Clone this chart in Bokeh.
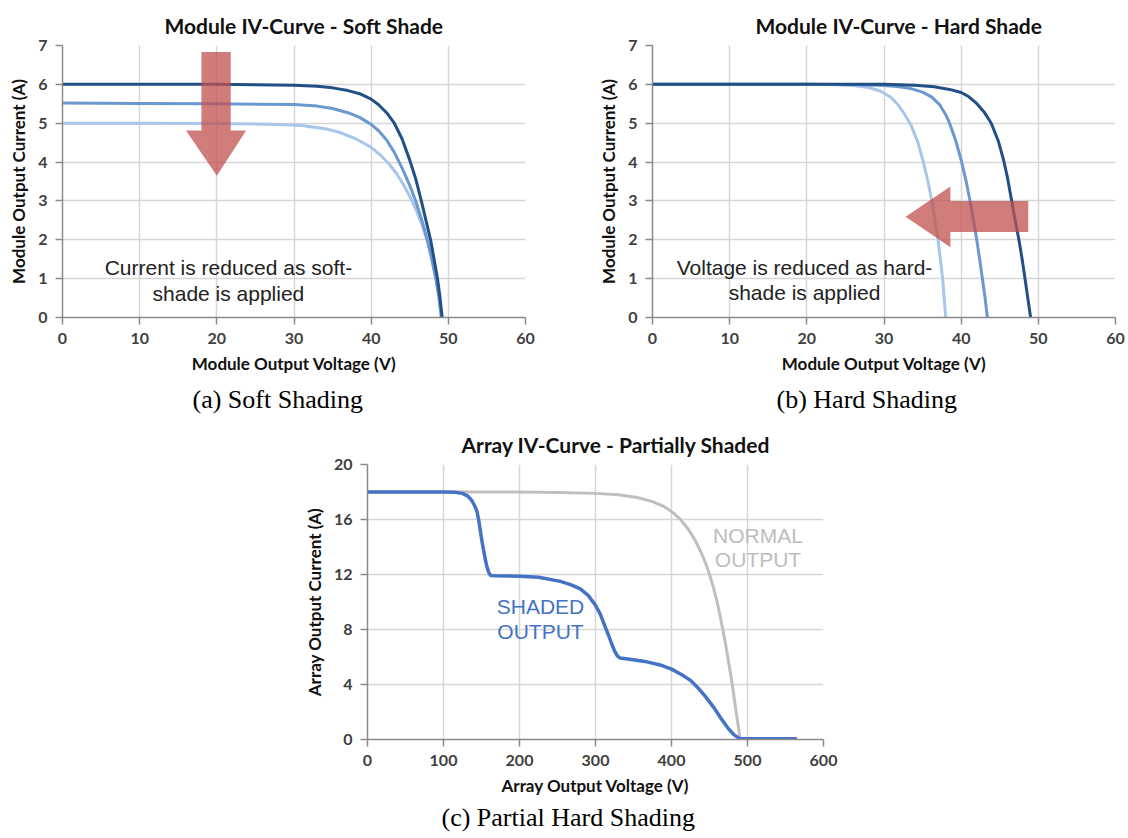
from bokeh.plotting import figure
from bokeh.models import Label, Range1d, FixedTicker, Spacer, Title
from bokeh.layouts import column, row
from bokeh.embed import file_html
from bokeh.resources import INLINE

# ---------------- (a) Soft shading: module IV curves ----------------
soft_v_full = [0, 10, 20, 25, 30, 33, 35, 37, 38.5, 40, 41, 42, 43, 44, 45, 45.8, 46.5, 47.1, 47.7, 48.2, 48.6, 48.9, 49.2]
soft_i_full = [6.0, 6.0, 6.0, 5.99, 5.98, 5.95, 5.91, 5.84, 5.76, 5.62, 5.47, 5.27, 5.0, 4.6, 4.05, 3.55, 3.0, 2.5,
               2.0, 1.45, 1.0, 0.55, 0.0]
soft_v_mid = [0, 10, 20, 30, 33, 35, 37, 38.5, 40, 41, 42, 43, 44, 45, 45.8, 46.6, 47.3, 47.9, 48.4, 48.8, 49.1]
soft_i_mid = [5.52, 5.51, 5.5, 5.48, 5.44, 5.38, 5.27, 5.15, 4.97, 4.8, 4.57, 4.25, 3.85, 3.4, 2.98, 2.48, 1.98,
              1.47, 0.98, 0.5, 0.0]
soft_v_low = [0, 10, 20, 28, 31, 34, 36, 38, 40, 41.2, 42.4, 43.3, 44.1, 45, 45.8, 46.6, 47.3, 47.9, 48.4, 48.8, 49.1]
soft_i_low = [5.0, 5.0, 4.99, 4.97, 4.94, 4.86, 4.76, 4.6, 4.38, 4.18, 3.93, 3.7, 3.45, 3.12, 2.78, 2.38, 1.95,
              1.47, 1.0, 0.52, 0.0]

# ---------------- (b) Hard shading: module IV curves ----------------
hard_v_full = [0, 20, 30, 34, 36.5, 38.5, 40, 41, 42, 43, 43.9, 44.8, 45.5, 46.0, 46.5, 47.0, 47.5, 47.9, 48.2, 48.6, 49.0]
hard_i_full = [6, 6, 6, 5.98, 5.94, 5.87, 5.79, 5.68, 5.51, 5.28, 5.0, 4.55, 4.05, 3.6, 3.05, 2.5, 1.98, 1.5, 1.1,
               0.55, 0]
hard_v_mid = [0, 20, 27, 30, 32, 33.5, 35, 36.2, 37.2, 38, 38.5, 39.3, 40.0, 40.6, 41.1, 41.6, 42.0, 42.4, 42.75,
              43.1, 43.4]
hard_i_mid = [6, 6, 5.99, 5.97, 5.94, 5.89, 5.8, 5.67, 5.48, 5.22, 5.0, 4.55, 4.05, 3.55, 3.05, 2.5, 2.02, 1.5, 1.0,
              0.5, 0]
hard_v_low = [0, 20, 24, 26, 28, 29.5, 30.8, 31.8, 32.7, 33.5, 34.4, 35.1, 35.7, 36.2, 36.6, 37.0, 37.3, 37.6, 37.8, 38.0]
hard_i_low = [6, 6, 5.99, 5.97, 5.92, 5.83, 5.68, 5.48, 5.22, 4.95, 4.5, 4.0, 3.5, 3.0, 2.5, 2.0, 1.5, 1.0, 0.5, 0]

# ---------------- (c) Array IV curves ----------------
normal_v = [0, 100, 200, 250, 300, 330, 355, 375, 390, 402, 412, 422, 431, 439, 445, 450, 455, 460, 464, 467.5,
            471, 474, 477, 480, 482.5, 485, 487.8, 490.4]
normal_i = [18, 18, 18, 17.97, 17.9, 17.8, 17.6, 17.3, 16.95, 16.5, 16.0, 15.3, 14.5, 13.6, 12.8, 12.0, 11.1, 10.0,
            9.0, 8.0, 7.0, 6.0, 5.0, 4.0, 3.0, 2.0, 1.0, 0]
shaded_v = [0, 100, 115, 125, 132, 137, 141, 144, 146.5, 149, 151, 153, 155, 157, 159.5, 162, 170, 200, 225, 254,
            268, 280, 290, 299, 306, 312, 317, 321, 325, 328.5, 332, 345, 365, 385, 400, 413, 425, 435, 445, 456,
            465, 474, 482, 489, 492, 565]
shaded_i = [18, 18, 17.98, 17.9, 17.7, 17.4, 17.0, 16.6, 15.9, 15.0, 14.3, 13.7, 13.1, 12.6, 12.15, 11.92, 11.9,
            11.88, 11.8, 11.5, 11.25, 10.95, 10.5, 9.85, 9.15, 8.3, 7.6, 7.0, 6.45, 6.1, 5.93, 5.84, 5.68, 5.42,
            5.12, 4.73, 4.3, 3.75, 3.1, 2.3, 1.55, 0.85, 0.35, 0.08, 0.05, 0.05]

module_v_ticks = [0, 10, 20, 30, 40, 50, 60]
module_i_ticks = [0, 1, 2, 3, 4, 5, 6, 7]
array_v_ticks = [0, 100, 200, 300, 400, 500, 600]
array_i_ticks = [0, 4, 8, 12, 16, 20]

# block-arrow outlines
soft_arrow_v = [18.0, 21.8, 21.8, 23.8, 20.0, 16.0, 18.0]
soft_arrow_i = [6.83, 6.83, 4.81, 4.81, 3.65, 4.81, 4.81]
hard_arrow_v = [48.7, 48.7, 38.6, 38.6, 32.8, 38.6, 38.6]
hard_arrow_i = [3.0, 2.2, 2.2, 1.81, 2.59, 3.37, 3.0]

DARK = "#214f86"
MID = "#6a98cf"
LIGHT = "#a8c6ea"
ARROW = "#c0504d"
FONT = "Lato"


def make_fig(title, title_offset, xlab, ylab, xr, yr, xt, yt, fw, fh, bl, br, bt, bb):
    p = figure(frame_width=fw, frame_height=fh, x_range=Range1d(*xr), y_range=Range1d(*yr),
               output_backend="svg", toolbar_location=None,
               min_border_left=bl, min_border_right=br, min_border_top=bt, min_border_bottom=bb)
    p.title.text = title
    p.title.align = "left"
    p.title.offset = title_offset
    p.title.text_font = FONT
    p.title.text_font_style = "bold"
    p.title.text_font_size = "21px"
    p.title.text_color = "#111111"
    p.title.standoff = 16
    p.xaxis.ticker = FixedTicker(ticks=xt)
    p.yaxis.ticker = FixedTicker(ticks=yt)
    p.xaxis.axis_label = xlab
    p.yaxis.axis_label = ylab
    for ax in (p.xaxis[0], p.yaxis[0]):
        ax.axis_label_text_font = FONT
        ax.axis_label_text_font_style = "bold"
        ax.axis_label_text_font_size = "17px"
        ax.axis_label_text_color = "#111111"
        ax.major_label_text_font = FONT
        ax.major_label_text_font_style = "bold"
        ax.major_label_text_font_size = "16px"
        ax.major_label_text_color = "#404040"
        ax.axis_line_color = "#8a8a8a"
        ax.axis_line_width = 1.5
        ax.major_tick_line_color = "#8a8a8a"
        ax.major_tick_line_width = 1.5
        ax.major_tick_out = 7
        ax.major_tick_in = 0
        ax.minor_tick_line_color = None
        ax.major_label_standoff = 8
        ax.axis_label_standoff = 6
    p.grid.grid_line_color = "#d6d6d6"
    p.grid.grid_line_width = 1.5
    p.outline_line_color = None
    p.background_fill_color = "white"
    p.border_fill_color = "white"
    return p


def add_text(p, x, y, text, size, color):
    p.add_layout(Label(x=x, y=y, text=text, text_align="center", text_baseline="middle",
                       text_font="Liberation Sans", text_font_size=size, text_color=color))


def add_caption(p, text, offset, standoff):
    p.add_layout(Title(text=text, align="left", offset=offset, standoff=standoff,
                       text_font="Liberation Serif", text_font_size="26px",
                       text_font_style="normal", text_color="#000000"), "below")


# ---- (a)
p1 = make_fig("Module IV-Curve - Soft Shade", 102, "Module Output Voltage (V)", "Module Output Current (A)",
              (0, 60), (0, 7), module_v_ticks, module_i_ticks, 463, 272, 62, 64, 45, 104)
p1.line(soft_v_low, soft_i_low, line_color=LIGHT, line_width=3)
p1.line(soft_v_mid, soft_i_mid, line_color=MID, line_width=3)
p1.line(soft_v_full, soft_i_full, line_color=DARK, line_width=3)
p1.patch(soft_arrow_v, soft_arrow_i, fill_color=ARROW, fill_alpha=0.75, line_color=None)
add_text(p1, 21.5, 1.29, "Current is reduced as soft-", "21px", "#222222")
add_text(p1, 21.5, 0.61, "shade is applied", "21px", "#222222")
add_caption(p1, "(a) Soft Shading", 130, 12)

# ---- (b)
p2 = make_fig("Module IV-Curve - Hard Shade", 103, "Module Output Voltage (V)", "Module Output Current (A)",
              (0, 60), (0, 7), module_v_ticks, module_i_ticks, 463, 272, 63, 12, 45, 104)
p2.line(hard_v_low, hard_i_low, line_color=LIGHT, line_width=3)
p2.line(hard_v_mid, hard_i_mid, line_color=MID, line_width=3)
p2.line(hard_v_full, hard_i_full, line_color=DARK, line_width=3)
p2.patch(hard_arrow_v, hard_arrow_i, fill_color=ARROW, fill_alpha=0.75, line_color=None)
add_text(p2, 19.7, 1.29, "Voltage is reduced as hard-", "21px", "#222222")
add_text(p2, 19.7, 0.65, "shade is applied", "21px", "#222222")
add_caption(p2, "(b) Hard Shading", 124, 12)

# ---- (c)
p3 = make_fig("Array IV-Curve - Partially Shaded", 94, "Array Output Voltage (V)", "Array Output Current (A)",
              (0, 600), (0, 20), array_v_ticks, array_i_ticks, 456, 275, 77, 27, 42, 95)
p3.line(normal_v, normal_i, line_color="#bfbfbf", line_width=3)
p3.line(shaded_v, shaded_i, line_color="#4472c4", line_width=3.5)
add_text(p3, 227.6, 9.7, "SHADED", "21px", "#4472c4")
add_text(p3, 227.6, 7.85, "OUTPUT", "21px", "#4472c4")
add_text(p3, 513.8, 14.86, "NORMAL", "21px", "#bdbdbd")
add_text(p3, 513.8, 13.1, "OUTPUT", "21px", "#bdbdbd")
add_caption(p3, "(c) Partial Hard Shading", 74, 4)

layout = column(row(p1, p2), row(Spacer(width=290, height=412), p3))
open("out.html", "w").write(file_html(layout, INLINE))
